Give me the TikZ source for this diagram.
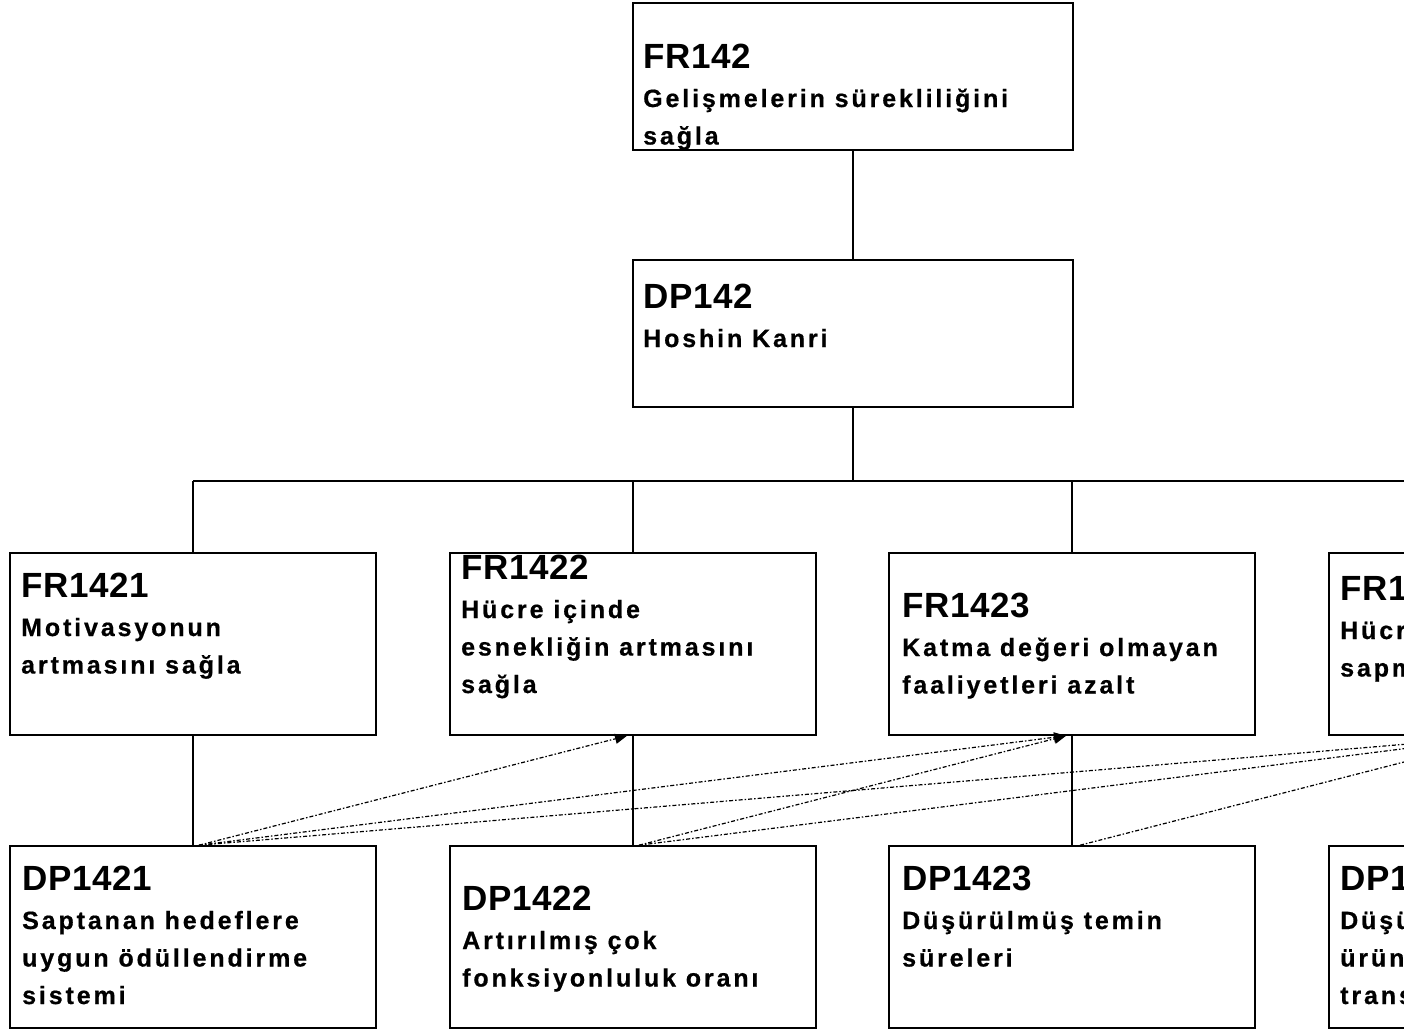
\documentclass[tikz,border=0pt]{standalone}
\usepackage{fontspec}
\setmainfont{Liberation Sans}
\newfontfamily\ttlfont{Liberation Sans}[LetterSpace=2]
\newfontfamily\bodyfont{Liberation Sans}[LetterSpace=11.5,FakeBold=0.6]
\usetikzlibrary{arrows.meta}
\newcommand\mktext[2]{\begin{tabular}[t]{@{}l@{}}{\ttlfont\bfseries\fontsize{35}{37.5}\selectfont #1}\\[1.5pt] #2\end{tabular}}
\tikzset{
  box/.style={draw, line width=1.6pt, minimum width=366pt, minimum height=182pt, inner sep=0pt, fill=white},
  bigbox/.style={box, minimum width=440pt, minimum height=147pt},
  conn/.style={line width=1.5pt},
  dep/.style={line width=1.2pt, dash pattern=on 4pt off 2pt on 1.5pt off 2pt, -{Triangle[length=12pt,width=10pt]}},
  lbl/.style={anchor=base west, inner sep=0pt, font=\bodyfont\bfseries\fontsize{25}{37.5}\selectfont}
}
\begin{document}
\begin{tikzpicture}[x=1pt,y=-1pt]
\useasboundingbox (0,0) rectangle (1404,1029);
\clip (0,0) rectangle (1404,1029);
\fill[white] (0,0) rectangle (1404,1029);
\coordinate (bus) at (0,481);
% boxes
\node[bigbox] (fr142) at (853,76.5) {};
\node[bigbox] (dp142) at (853,333.5) {};
\node[box] (fr1421) at (193,644) {};
\node[box] (fr1422) at (633,644) {};
\node[box] (fr1423) at (1072,644) {};
\node[box] (fr1424) at (1512,644) {};
\node[box] (dp1421) at (193,937) {};
\node[box] (dp1422) at (633,937) {};
\node[box] (dp1423) at (1072,937) {};
\node[box] (dp1424) at (1512,937) {};
% tree connectors
\draw[conn] (fr142.south) -- (dp142.north);
\draw[conn] (dp142.south) -- (dp142.south |- bus);
\draw[conn] (fr1421.north |- bus) -- (fr1424.north |- bus);
\draw[conn] (fr1421.north |- bus) -- (fr1421.north);
\draw[conn] (fr1422.north |- bus) -- (fr1422.north);
\draw[conn] (fr1423.north |- bus) -- (fr1423.north);
\draw[conn] (fr1424.north |- bus) -- (fr1424.north);
\draw[conn] (fr1421.south) -- (dp1421.north);
\draw[conn] (fr1422.south) -- (dp1422.north);
\draw[conn] (fr1423.south) -- (dp1423.north);
\draw[conn] (fr1424.south) -- (dp1424.north);
% design matrix dependencies
\draw[dep] ([xshift=6pt]dp1421.north) -- ([xshift=-6pt]fr1422.south);
\draw[dep] ([xshift=6pt]dp1421.north) -- ([xshift=-6pt]fr1423.south);
\draw[dep] ([xshift=6pt]dp1421.north) -- ([xshift=-6pt]fr1424.south);
\draw[dep] ([xshift=6pt]dp1422.north) -- ([xshift=-6pt]fr1423.south);
\draw[dep] ([xshift=6pt]dp1422.north) -- ([xshift=-6pt]fr1424.south);
\draw[dep] ([xshift=8pt]dp1423.north) -- ([xshift=-6pt]fr1424.south);
% texts
\node[lbl] (t142) at (643,68) {\mktext{FR142}{Gelişmelerin sürekliliğini\\sağla}};
\node[lbl] (u142) at (643,308) {\mktext{DP142}{Hoshin Kanri}};
\node[lbl] (t1421) at (21,597) {\mktext{FR1421}{Motivasyonun\\artmasını sağla}};
\node[lbl] (t1422) at (461,579) {\mktext{FR1422}{Hücre içinde\\esnekliğin artmasını\\sağla}};
\node[lbl] (t1423) at (902,617) {\mktext{FR1423}{Katma değeri olmayan\\faaliyetleri azalt}};
\node[lbl] (t1424) at (1340,600) {\mktext{FR1424}{Hücre içinde\\sapmaları azalt}};
\node[lbl] (u1421) at (22,890) {\mktext{DP1421}{Saptanan hedeflere\\uygun ödüllendirme\\sistemi}};
\node[lbl] (u1422) at (462,910) {\mktext{DP1422}{Artırılmış çok\\fonksiyonluluk oranı}};
\node[lbl] (u1423) at (902,890) {\mktext{DP1423}{Düşürülmüş temin\\süreleri}};
\node[lbl] (u1424) at (1340,890) {\mktext{DP1424}{Düşürülmüş\\ürün\\transfer süreleri}};
\end{tikzpicture}
\end{document}
